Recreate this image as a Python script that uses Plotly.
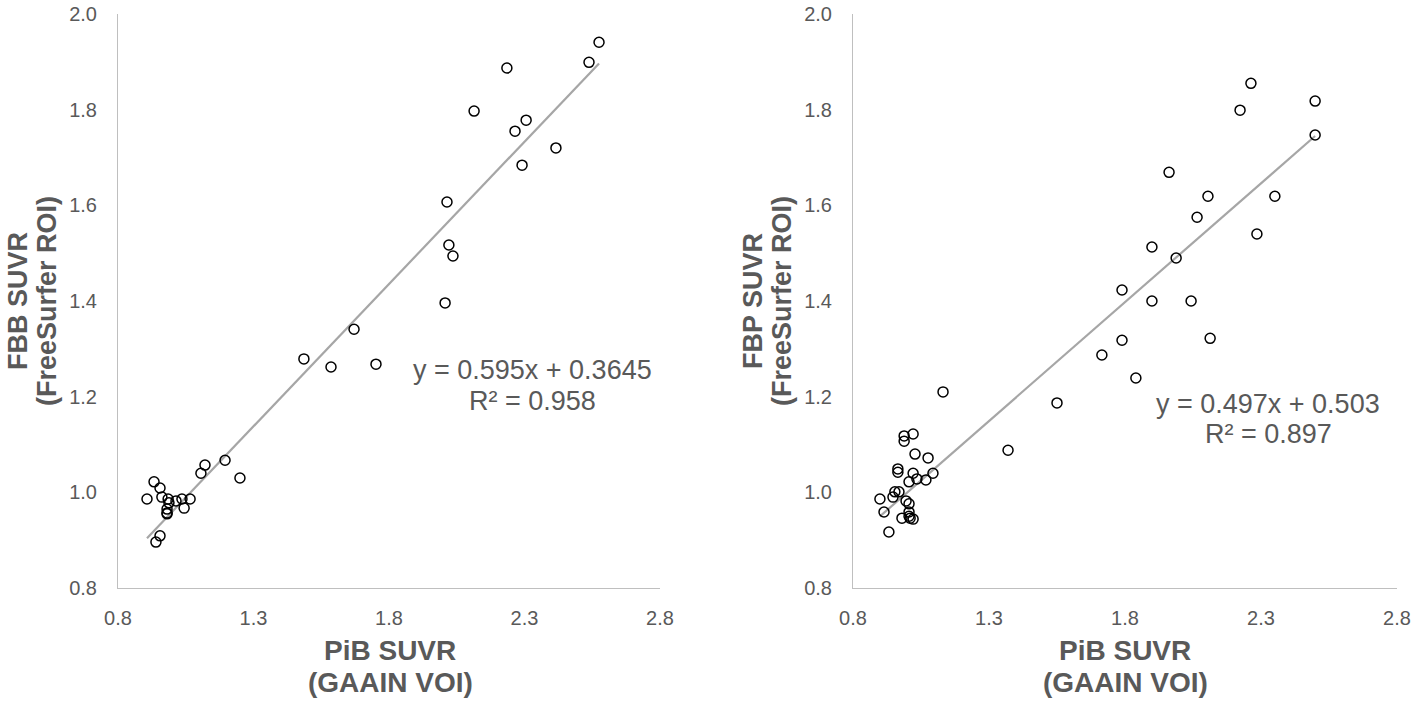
import plotly.graph_objects as go

# Left panel: PiB SUVR vs FBB SUVR
fbb_pib = [0.933, 0.955, 0.907, 0.962, 0.985, 0.988, 1.014, 1.036, 1.066, 1.044,
           0.981, 0.981, 0.981, 0.955, 0.940, 1.106, 1.121, 1.195, 1.250, 1.486,
           1.586, 1.671, 1.752, 2.007, 2.021, 2.036, 2.014, 2.114, 2.235, 2.265,
           2.306, 2.291, 2.416, 2.538, 2.575]
fbb_suvr = [1.022, 1.009, 0.986, 0.990, 0.986, 0.978, 0.982, 0.986, 0.986, 0.967,
            0.965, 0.957, 0.955, 0.909, 0.896, 1.040, 1.057, 1.067, 1.030, 1.279,
            1.262, 1.341, 1.268, 1.396, 1.517, 1.494, 1.607, 1.797, 1.887, 1.755,
            1.778, 1.684, 1.720, 1.899, 1.941]

# Right panel: PiB SUVR vs FBP SUVR
fbp_pib = [1.131, 1.370, 0.988, 0.988, 1.021, 1.028, 1.076, 0.965, 0.965, 1.021,
           1.094, 1.006, 1.035, 1.068, 0.899, 0.954, 0.947, 0.969, 0.995, 1.006,
           1.006, 1.006, 0.980, 1.010, 1.021, 0.914, 0.932, 1.550, 1.715, 1.789,
           1.840, 1.789, 1.899, 1.899, 1.988, 1.962, 2.043, 2.065, 2.105, 2.113,
           2.285, 2.351, 2.223, 2.263, 2.499, 2.499]
fbp_suvr = [1.210, 1.088, 1.118, 1.107, 1.122, 1.080, 1.072, 1.049, 1.042, 1.040,
            1.040, 1.022, 1.028, 1.026, 0.986, 1.001, 0.990, 1.001, 0.982, 0.976,
            0.959, 0.950, 0.946, 0.946, 0.944, 0.959, 0.917, 1.187, 1.287, 1.318,
            1.239, 1.423, 1.400, 1.513, 1.490, 1.669, 1.400, 1.575, 1.619, 1.322,
            1.540, 1.619, 1.799, 1.855, 1.818, 1.747]

fbb_slope, fbb_icpt = 0.595, 0.3645
fbp_slope, fbp_icpt = 0.497, 0.503
fbb_r2, fbp_r2 = 0.958, 0.897

x_ticks = [0.8, 1.3, 1.8, 2.3, 2.8]
y_ticks = [0.8, 1.0, 1.2, 1.4, 1.6, 1.8, 2.0]

W, H = 1418, 705
ML, MT = 118, 14
PW, PH = 1279, 574
MR, MB = W - ML - PW, H - MT - PH
TXT = "#595959"
FONT = "Liberation Sans, Arial, sans-serif"

fig = go.Figure()

def add_panel(xs, ys, slope, icpt, xa, ya):
    x0, x1 = min(xs), max(xs)
    fig.add_trace(go.Scatter(x=[x0, x1], y=[slope * x0 + icpt, slope * x1 + icpt],
                             mode="lines", line=dict(color="#a6a6a6", width=2.2),
                             xaxis=xa, yaxis=ya, showlegend=False, hoverinfo="skip"))
    fig.add_trace(go.Scatter(x=xs, y=ys, mode="markers",
                             marker=dict(symbol="circle-open", size=10, color="black",
                                         line=dict(width=1.5, color="black")),
                             xaxis=xa, yaxis=ya, showlegend=False))

add_panel(fbb_pib, fbb_suvr, fbb_slope, fbb_icpt, "x", "y")
add_panel(fbp_pib, fbp_suvr, fbp_slope, fbp_icpt, "x2", "y2")

common_x = dict(range=[0.8, 2.8], tickvals=x_ticks, ticktext=[f"{v:.1f}" for v in x_ticks],
                showline=True, linecolor="#bfbfbf", linewidth=1, showgrid=False,
                zeroline=False, ticks="", ticklabelstandoff=12, automargin=False,
                ticklabeloverflow="allow",
                tickfont=dict(family=FONT, size=20, color=TXT))
common_y = dict(range=[0.8, 2.0], tickvals=y_ticks, ticktext=[f"{v:.1f}" for v in y_ticks],
                showline=True, linecolor="#bfbfbf", linewidth=1, showgrid=False,
                zeroline=False, ticks="", ticklabelstandoff=16, automargin=False,
                ticklabeloverflow="allow",
                tickfont=dict(family=FONT, size=20, color=TXT), domain=[0, 1])

fig.update_layout(
    width=W, height=H, margin=dict(l=ML, r=MR, t=MT, b=MB, autoexpand=False),
    paper_bgcolor="white", plot_bgcolor="white",
    xaxis=dict(domain=[0, (660 - 118) / PW], anchor="y", **common_x),
    yaxis=dict(anchor="x", **common_y),
    xaxis2=dict(domain=[(853 - 118) / PW, (1397 - 118) / PW], anchor="y2", **common_x),
    yaxis2=dict(anchor="x2", **common_y),
)

def px_ann(text, x, y, size, bold=False, angle=0):
    # x, y are pixel positions in the 1418x705 picture
    fig.add_annotation(text=f"<b>{text}</b>" if bold else text,
                       xref="paper", yref="paper", x=(x - ML) / PW, y=(MT + PH - y) / PH,
                       xanchor="center", yanchor="middle", showarrow=False,
                       textangle=angle, font=dict(family=FONT, size=size, color=TXT))

# Axis titles
px_ann("FBB SUVR", 18, 301, 27, bold=True, angle=-90)
px_ann("(FreeSurfer ROI)", 47, 301, 27, bold=True, angle=-90)
px_ann("PiB SUVR", 390, 650, 28, bold=True)
px_ann("(GAAIN VOI)", 390, 682, 28, bold=True)
px_ann("FBP SUVR", 753, 301, 27, bold=True, angle=-90)
px_ann("(FreeSurfer ROI)", 782, 301, 27, bold=True, angle=-90)
px_ann("PiB SUVR", 1125, 650, 28, bold=True)
px_ann("(GAAIN VOI)", 1125, 682, 28, bold=True)

# Equations
px_ann(f"y = {fbb_slope}x + {fbb_icpt}", 532, 370, 27)
px_ann(f"R² = {fbb_r2}", 532, 401, 27)
px_ann(f"y = {fbp_slope}x + {fbp_icpt}", 1268, 404, 27)
px_ann(f"R² = {fbp_r2}", 1268, 434, 27)

# remove the default 8px page margin so the figure sits at the window's corner
fig.write_html("out.html", config={"displayModeBar": False},
               post_script="document.body.style.margin='0';document.body.style.overflow='hidden';")
